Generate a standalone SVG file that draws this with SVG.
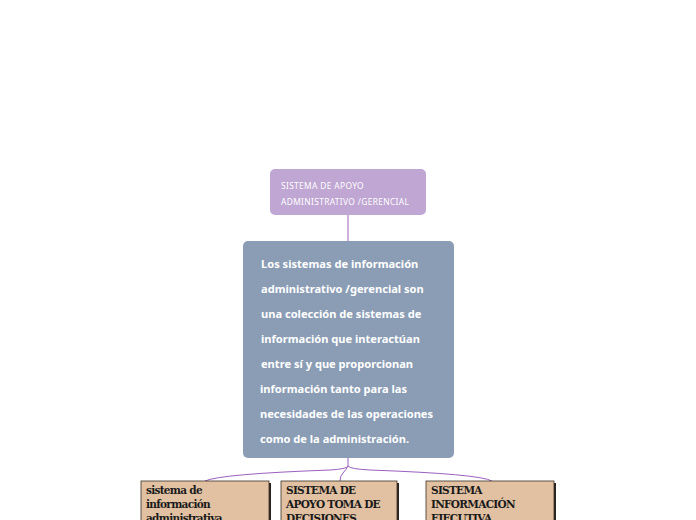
<svg xmlns="http://www.w3.org/2000/svg" width="696" height="520" viewBox="0 0 696 520">
<style>
.t1{font-family:"Noto Sans","Liberation Sans",sans-serif;font-size:8.4px;fill:#ffffff;letter-spacing:0.35px}
.t2{font-family:"Noto Sans","Liberation Sans",sans-serif;font-size:11.1px;font-weight:bold;fill:#ffffff}
.t3{font-family:"DejaVu Serif","Liberation Serif",serif;font-size:10.5px;font-weight:bold;fill:#1a1a1a;letter-spacing:-0.7px}
.leaf{fill:#e2c1a2;stroke:#3a3027;stroke-width:0.8}
.shadow{fill:#2a241e}
.con{fill:none;stroke:#9b5fc0;stroke-width:1}
</style>
<rect width="696" height="520" fill="#ffffff"/>
<g id="connectors">
<path class="con" d="M348,215 V241"/>
<path class="con" d="M348,458 V466 Q347,469 330,470 Q220,474 205,481"/>
<path class="con" d="M348,466 Q346,470 343,473 Q340,476 340,481"/>
<path class="con" d="M348,466 Q350,469 370,470 Q480,474 492,481"/>
</g>
<g id="node-root">
<rect x="270" y="169" width="156" height="46" rx="5" fill="#c0a6d3"/>
<text class="t1" x="281" y="189">SISTEMA DE APOYO</text>
<text class="t1" x="281" y="205">ADMINISTRATIVO /GERENCIAL</text>
</g>
<g id="node-desc">
<rect x="243" y="241" width="211" height="217" rx="5" fill="#8b9db5"/>
<text class="t2" x="261" y="268">Los sistemas de información</text>
<text class="t2" x="261" y="293">administrativo /gerencial son</text>
<text class="t2" x="261" y="318">una colección de sistemas de</text>
<text class="t2" x="261" y="343">información que interactúan</text>
<text class="t2" x="261" y="368">entre sí y que proporcionan</text>
<text class="t2" x="260" y="393">información tanto para las</text>
<text class="t2" x="260" y="418">necesidades de las operaciones</text>
<text class="t2" x="260" y="443">como de la administración.</text>
</g>
<g id="node-a">
<rect class="shadow" x="143" y="483" width="128" height="40"/>
<rect class="leaf" x="141" y="481" width="128" height="40"/>
<text class="t3" x="146" y="494">sistema de</text>
<text class="t3" x="146" y="508">información</text>
<text class="t3" x="146" y="522">administrativa</text>
</g>
<g id="node-b">
<rect class="shadow" x="283" y="483" width="116" height="40"/>
<rect class="leaf" x="281" y="481" width="116" height="40"/>
<text class="t3" x="286" y="494">SISTEMA DE</text>
<text class="t3" x="286" y="508">APOYO TOMA DE</text>
<text class="t3" x="286" y="522">DECISIONES</text>
</g>
<g id="node-c">
<rect class="shadow" x="428" y="483" width="128" height="40"/>
<rect class="leaf" x="426" y="481" width="128" height="40"/>
<text class="t3" x="431" y="494">SISTEMA</text>
<text class="t3" x="431" y="508">INFORMACIÓN</text>
<text class="t3" x="431" y="522">EJECUTIVA</text>
</g>
</svg>
